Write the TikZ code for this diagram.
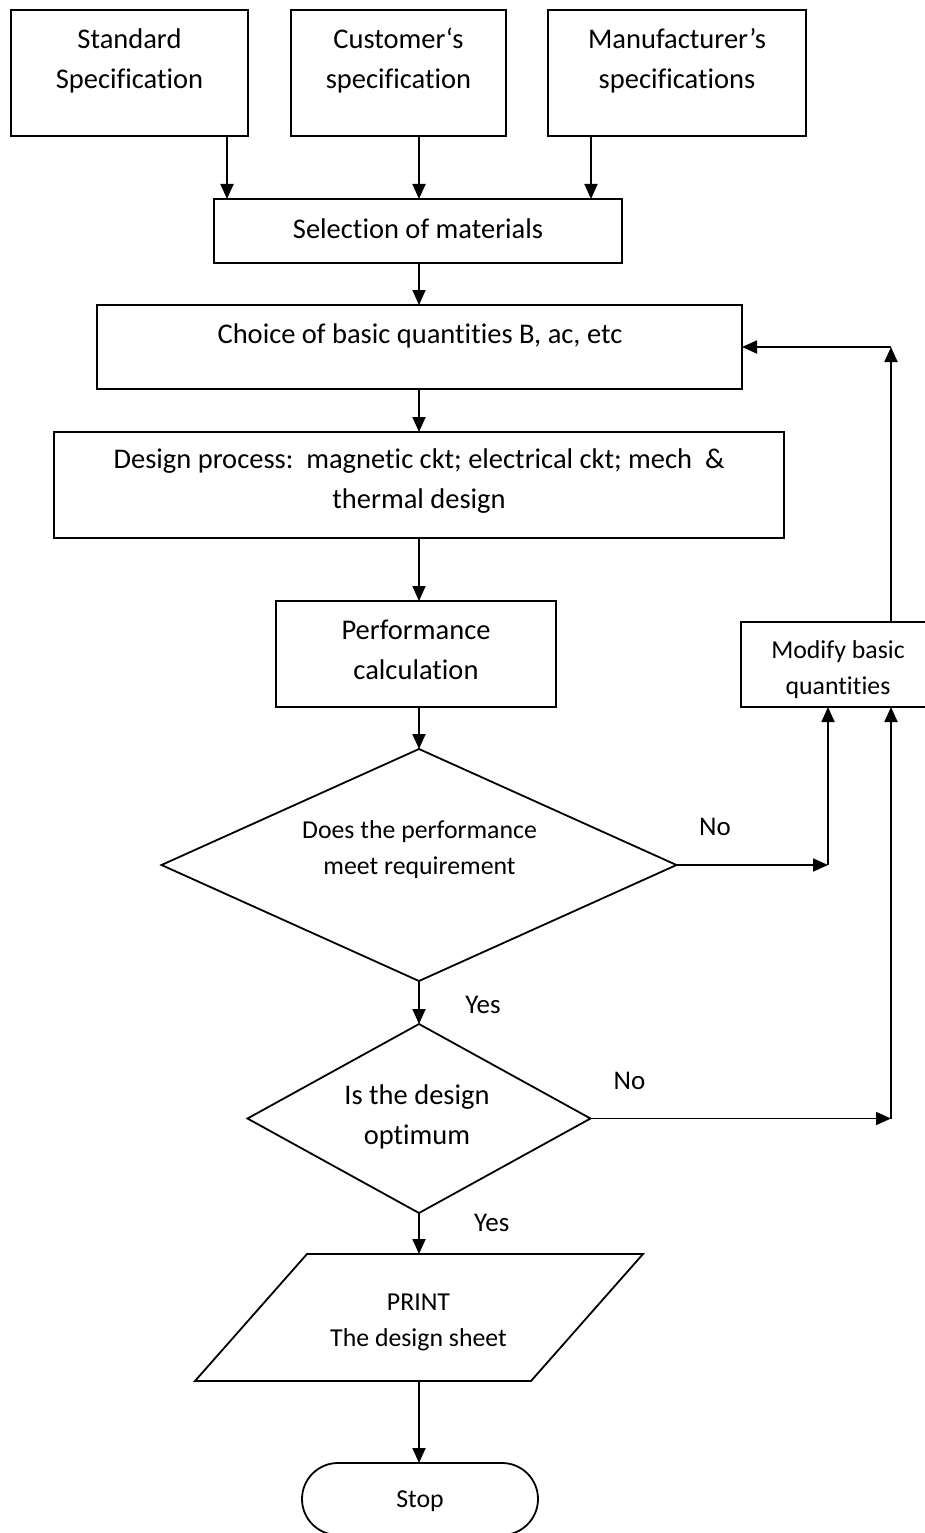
\documentclass[tikz,border=0pt]{standalone}
\usepackage{fontspec}
\setmainfont{Carlito}[Ligatures={TeX,CommonOff}]
\usetikzlibrary{arrows.meta,shapes.geometric}
\newcommand\fbig{\fontsize{28.5}{40}\selectfont}
\newcommand\fmed{\fontsize{25.8}{36}\selectfont}
\newcommand\flab{\fontsize{27}{33}\selectfont}
\begin{document}
\begin{tikzpicture}[x=1pt,y=-1pt,line width=1.8pt,
  box/.style={draw,rectangle,inner sep=0pt,outer sep=0pt},
  dia/.style={draw,diamond,inner sep=0pt,outer sep=0pt},
  txt/.style={inner sep=0pt,align=center,anchor=north,font=\fbig},
  lbl/.style={inner sep=0pt,anchor=base,font=\flab},
  arr/.style={-{Triangle[length=15pt,width=13pt]}}]
\useasboundingbox (0,0) rectangle (925,1533);
% column coordinates
\coordinate (cx) at (419,0);
\coordinate (xa) at (227,0);
\coordinate (xb) at (591,0);
\coordinate (xn) at (828,0);
\coordinate (rx) at (891,0);
% top boxes
\node[box,minimum width=237pt,minimum height=126pt] (b1) at (129.5,73) {};
\node[txt] (t1) at (129.5,20) {\strut Standard\\Specification};
\node[box,minimum width=215pt,minimum height=126pt] (b2) at (398.5,73) {};
\node[txt] (t2) at (398.5,20) {\strut Customer‘s\\specification};
\node[box,minimum width=258pt,minimum height=126pt] (b3) at (677,73) {};
\node[txt] (t3) at (677,20) {\strut Manufacturer’s\\specifications};
% main column
\node[box,minimum width=408pt,minimum height=64pt] (sel) at (418,231) {};
\node[txt] (tsel) at (418,210) {\strut Selection of materials};
\node[box,minimum width=645pt,minimum height=84pt] (cho) at (419.5,347) {};
\node[txt] (tcho) at (420,315) {\strut Choice of basic quantities B, ac, etc};
\node[box,minimum width=730pt,minimum height=106pt] (des) at (419,485) {};
\node[txt] (tdes) at (419,440) {\strut Design process:\ \ magnetic ckt; electrical ckt; mech\ \ \&\\thermal design};
\node[box,minimum width=280pt,minimum height=106pt] (perf) at (416,654) {};
\node[txt] (tperf) at (416,611) {\strut Performance\\calculation};
\node[box,minimum width=194pt,minimum height=85pt] (mod) at (838,664.5) {};
\node[txt,font=\fmed] (tmod) at (838,632.5) {\strut Modify basic\\quantities};
\node[dia,minimum width=515pt,minimum height=232pt] (d1) at (419,865) {};
\node[txt,font=\fmed] (td1) at (419.5,812.5) {\strut Does the performance\\meet requirement};
\node[dia,minimum width=343pt,minimum height=189pt] (d2) at (419,1118.5) {};
\node[txt] (td2) at (417,1075.7) {\strut Is the design\\optimum};
% print parallelogram
\coordinate (p1) at (195,1381);
\coordinate (p2) at (531,1381);
\coordinate (p3) at (643,1254);
\coordinate (p4) at (307,1254);
\draw (p1) -- (p2) -- (p3) -- (p4) -- cycle;
\coordinate (prtop) at (419,1254);
\coordinate (prbot) at (419,1381);
\node[txt,font=\fmed] (tpr) at (418.5,1284.3) {\strut PRINT\\The design sheet};
\node[box,rounded corners=36pt,minimum width=236pt,minimum height=72pt] (stop) at (420,1499) {};
\node[txt,font=\fmed] (tstop) at (420,1481) {\strut Stop};
% connectors
\draw[arr] (b1.south -| xa) -- (sel.north -| xa);
\draw[arr] (b2.south -| cx) -- (sel.north -| cx);
\draw[arr] (b3.south -| xb) -- (sel.north -| xb);
\draw[arr] (sel.south -| cx) -- (cho.north -| cx);
\draw[arr] (cho.south -| cx) -- (des.north -| cx);
\draw[arr] (des.south -| cx) -- (perf.north -| cx);
\draw[arr] (perf.south -| cx) -- (d1.north);
\draw[arr] (d1.south) -- (d2.north);
\draw[arr] (d2.south) -- (prtop);
\draw[arr] (prbot) -- (stop.north -| cx);
\coordinate (n1) at (xn |- d1.east);
\draw[arr] (d1.east) -- (n1);
\draw[arr] (n1) -- (mod.south -| n1);
\coordinate (n2) at (rx |- d2.east);
\draw[arr] (d2.east) -- (n2);
\draw[arr] (n2) -- (mod.south -| n2);
\coordinate (n3) at (rx |- cho.east);
\draw[arr] (mod.north -| rx) -- (n3);
\draw[arr] (n3) -- (cho.east);
% labels
\node[lbl] (no1) at (715,835) {No};
\node[lbl] (no2) at (629.5,1089) {No};
\node[lbl] (yes1) at (483,1013) {Yes};
\node[lbl] (yes2) at (491.7,1231) {Yes};
\end{tikzpicture}
\end{document}
